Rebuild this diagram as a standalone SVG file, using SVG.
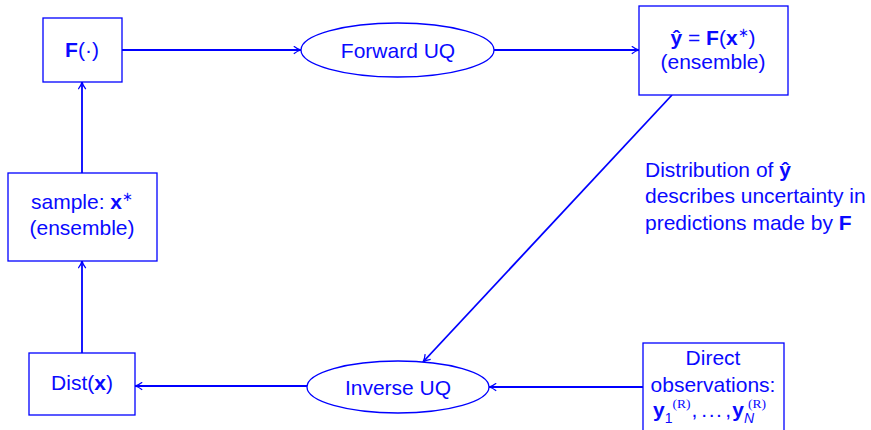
<svg xmlns="http://www.w3.org/2000/svg" width="871" height="430" viewBox="0 0 871 430">
  <defs>
    <marker id="arrow" viewBox="0 0 10 10" refX="9" refY="5" markerWidth="9" markerHeight="9" markerUnits="userSpaceOnUse" orient="auto">
      <path d="M1,0.8 Q5,4 9,5 Q5,6 1,9.2" fill="none" stroke="#0000ff" stroke-width="1.4"/>
    </marker>
  </defs>
  <style>
    .box { fill: #ffffff; stroke: #0000ff; stroke-width: 1.3; }
    .edge { fill: none; stroke: #0000ff; stroke-width: 1.8; marker-end: url(#arrow); }
    text { font-family: "Liberation Sans", Arial, sans-serif; font-size: 21px; fill: #0a0aff; }
    .c { text-anchor: middle; }
    .b { font-weight: bold; }
    .sup { font-size: 13px; }
    .sub { font-size: 14px; }
    .serif { font-family: "Liberation Serif", "Times New Roman", serif; font-size: 13.5px; }
    .it { font-style: italic; font-size: 14px; }
  </style>

  <!-- connectors -->
  <g id="connectors">
    <line class="edge" x1="122" y1="50" x2="301" y2="50"/>
    <line class="edge" x1="494" y1="50" x2="639" y2="50"/>
    <line class="edge" x1="672" y1="95" x2="423" y2="362"/>
    <line class="edge" x1="643" y1="387" x2="489" y2="387"/>
    <line class="edge" x1="307" y1="386" x2="135" y2="386"/>
    <line class="edge" x1="82" y1="353" x2="82" y2="261"/>
    <line class="edge" x1="82" y1="173" x2="82" y2="82"/>
  </g>

  <!-- model F -->
  <g id="model">
    <rect class="box" x="43" y="18" width="79" height="64"/>
    <text class="c" x="82" y="57"><tspan class="b">F</tspan>(·)</text>
  </g>

  <!-- forward UQ -->
  <g id="forward-uq">
    <ellipse class="box" cx="397.5" cy="50" rx="96.5" ry="27"/>
    <text class="c" x="398" y="58">Forward UQ</text>
  </g>

  <!-- prediction ensemble -->
  <g id="prediction">
    <rect class="box" x="639" y="6" width="149" height="89"/>
    <text class="c" x="713" y="45"><tspan class="b">ŷ</tspan> = <tspan class="b">F</tspan>(<tspan class="b">x</tspan><tspan class="sup" dy="-8">∗</tspan><tspan dy="8">)</tspan></text>
    <text class="c" x="713" y="69">(ensemble)</text>
  </g>

  <!-- annotation -->
  <g id="annotation">
    <text x="645" y="177">Distribution of <tspan class="b">ŷ</tspan></text>
    <text x="645" y="203">describes uncertainty in</text>
    <text x="645" y="230">predictions made by <tspan class="b">F</tspan></text>
  </g>

  <!-- sample ensemble -->
  <g id="sample">
    <rect class="box" x="8" y="173" width="149" height="88"/>
    <text class="c" x="82" y="209">sample: <tspan class="b">x</tspan><tspan class="sup" dy="-8">∗</tspan></text>
    <text class="c" x="82" y="235">(ensemble)</text>
  </g>

  <!-- input distribution -->
  <g id="distribution">
    <rect class="box" x="29" y="353" width="106" height="62"/>
    <text class="c" x="82" y="390">Dist(<tspan class="b">x</tspan>)</text>
  </g>

  <!-- inverse UQ -->
  <g id="inverse-uq">
    <ellipse class="box" cx="398" cy="387" rx="91" ry="26"/>
    <text class="c" x="398" y="395">Inverse UQ</text>
  </g>

  <!-- observations -->
  <g id="observations">
    <rect class="box" x="643" y="343" width="141" height="95"/>
    <text class="c" x="713" y="365">Direct</text>
    <text class="c" x="713" y="392">observations:</text>
    <text x="653" y="417"><tspan class="b">y</tspan><tspan class="sub" dy="6">1</tspan><tspan class="serif" dy="-15">(R)</tspan><tspan dx="1" dy="9">,</tspan><tspan dx="4">.</tspan><tspan dx="1.5">.</tspan><tspan dx="1.5">.</tspan><tspan dx="3.5">,</tspan><tspan class="b" dx="1">y</tspan><tspan class="it" dy="6">N</tspan><tspan class="serif" dx="-6" dy="-15">(R)</tspan></text>
  </g>
</svg>
